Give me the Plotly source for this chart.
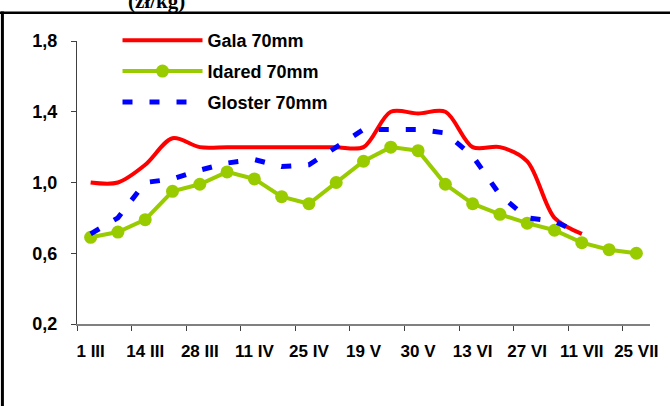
import plotly.graph_objects as go

# ---- data ----
x_idx = list(range(21))
tick_labels = ["1 III", "14 III", "28 III", "11 IV", "25 IV", "19 V",
               "30 V", "13 VI", "27 VI", "11 VII", "25 VII"]
gala = [1.00, 1.00, 1.10, 1.25, 1.20, 1.20, 1.20, 1.20, 1.20, 1.20, 1.20,
        1.40, 1.39, 1.40, 1.20, 1.20, 1.12, 0.80, 0.71, None, None]
idared = [0.69, 0.72, 0.79, 0.95, 0.99, 1.06, 1.02, 0.92, 0.88, 1.00, 1.12,
          1.20, 1.18, 0.99, 0.88, 0.82, 0.77, 0.73, 0.66, 0.62, 0.60]
gloster = [0.71, 0.80, 1.00, 1.02, 1.07, 1.11, 1.13, 1.09, 1.10, 1.20, 1.30,
           1.30, 1.30, 1.28, 1.15, 0.93, 0.80, 0.78, 0.71, None, None]
y_ticks = [0.2, 0.6, 1.0, 1.4, 1.8]
unit_text = "(zł/kg)"

W, H = 670, 406
ML, MR, MT, MB = 77, 13, 41, 82
pw, ph = W - ML - MR, H - MT - MB

def px_x(X):
    return (X - ML) / pw

def px_y(Y):
    return (H - MB - Y) / ph

fig = go.Figure()
fig.add_trace(go.Scatter(
    x=x_idx, y=gala, name="Gala 70mm", mode="lines", legendgroup="g1",
    line=dict(color="#FF0000", width=4, shape="spline", smoothing=0.9),
    connectgaps=False))
fig.add_trace(go.Scatter(
    x=x_idx, y=idared, name="Idared 70mm", mode="lines+markers", legendgroup="g2",
    line=dict(color="#99CC00", width=4),
    marker=dict(color="#99CC00", size=13)))
fig.add_trace(go.Scatter(
    x=x_idx, y=gloster, name="Gloster 70mm", mode="lines", legendgroup="g3",
    line=dict(color="#0000FF", width=5, dash="10px,17px")))

even_idx = [i for i in x_idx if i % 2 == 0]
boundaries = [i - 0.5 for i in even_idx]

fig.update_layout(
    width=W, height=H,
    margin=dict(l=ML, r=MR, t=MT, b=MB, pad=0),
    paper_bgcolor="white", plot_bgcolor="white",
    separators=",.",
    font=dict(family="Liberation Sans", color="black"),
    showlegend=True,
    legend=dict(
        x=px_x(118), y=px_y(22), xanchor="left", yanchor="top",
        bgcolor="rgba(0,0,0,0)", borderwidth=0,
        font=dict(family="Liberation Sans", size=18, color="black", weight="bold"),
        itemwidth=80, tracegroupgap=4.5,
    ),
    xaxis=dict(
        range=[-0.5, 20.5], showgrid=False, zeroline=False,
        showline=True, linecolor="#808080", linewidth=1.5,
        tickvals=even_idx, ticktext=tick_labels, ticks="",
        tickfont=dict(family="Liberation Sans", size=17, color="black", weight="bold"),
        ticklabelstandoff=11,
        minor=dict(tickvals=boundaries, ticks="outside", ticklen=5,
                   tickcolor="#404040", tickwidth=1),
    ),
    yaxis=dict(
        range=[0.2, 1.8], showgrid=False, zeroline=False,
        showline=True, linecolor="#404040", linewidth=1.2,
        tickvals=y_ticks, tickformat=".1f", ticks="outside", ticklen=5,
        tickcolor="#404040",
        tickfont=dict(family="Liberation Sans", size=18, color="black", weight="bold"),
        ticklabelstandoff=10,
    ),
    shapes=[
        dict(type="line", xref="paper", yref="paper",
             x0=px_x(-5), x1=px_x(680), y0=px_y(12.7), y1=px_y(12.7),
             line=dict(color="black", width=2.5)),
        dict(type="line", xref="paper", yref="paper",
             x0=px_x(1.5), x1=px_x(1.5), y0=px_y(11.5), y1=px_y(420),
             line=dict(color="black", width=3)),
    ],
    annotations=[
        dict(text="<b>" + unit_text + "</b>", xref="paper", yref="paper",
             x=px_x(157), y=px_y(0.5), xanchor="center", yanchor="middle",
             showarrow=False,
             font=dict(family="Liberation Serif", size=21, color="black")),
    ],
)

fig.write_html("out.html", config={"displayModeBar": False},
               post_script="document.body.style.margin='0';document.body.style.padding='0';")
